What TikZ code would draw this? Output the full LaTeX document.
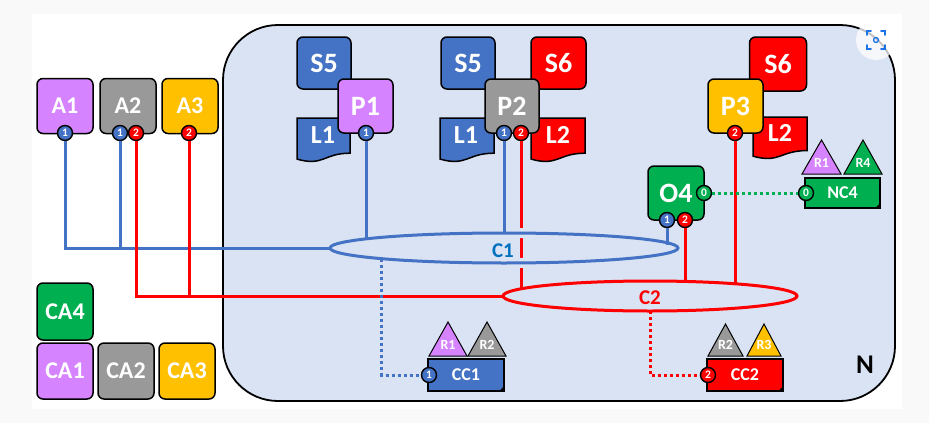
\documentclass[tikz,border=0pt]{standalone}
\usepackage{fontspec}
\setmainfont{Carlito}
\usetikzlibrary{shapes.geometric}
\definecolor{cviolet}{HTML}{D683FF}
\definecolor{cgray}{HTML}{999999}
\definecolor{cyellow}{HTML}{FFC000}
\definecolor{cblue}{HTML}{4472C4}
\definecolor{cred}{HTML}{FF0000}
\definecolor{cgreen}{HTML}{00B050}
\definecolor{nbg}{HTML}{DAE3F3}
\definecolor{lblblue}{HTML}{0070C0}
\definecolor{outerbg}{HTML}{F9F9F9}
\definecolor{iconblue}{HTML}{1A73E8}
\newcommand{\docshape}[5]{%
  \draw[doc, fill=#5] (#1,#2) -- (#3,#2) -- (#3,{#2+0.8*#4})
    .. controls ({(#1+#3)/2},{#2+0.8*#4}) and ({(#1+#3)/2},{#2+1.107*#4}) .. (#1,{#2+0.934*#4}) -- cycle;}
\newcommand{\foldcorner}[1]{%
  \fill[black] (#1.south east) -- ++(0,-6) -- ++(-6,6) -- cycle;}
\begin{document}
\begin{tikzpicture}[x=1pt,y=-1pt,
  box/.style={draw=black, line width=1.5pt, rounded corners=6pt, text=white, inner sep=0pt,
    minimum width=56pt, minimum height=55pt, font=\bfseries\fontsize{28}{28}\selectfont},
  abox/.style={box, font=\bfseries\fontsize{24}{24}\selectfont},
  doc/.style={draw=black, line width=1.5pt},
  doclbl/.style={text=white, inner sep=0pt, font=\bfseries\fontsize{26}{26}\selectfont},
  port/.style={circle, draw=black, line width=1.4pt, minimum size=15pt, inner sep=0pt,
    text=white, font=\bfseries\fontsize{11.5}{11.5}\selectfont},
  conn/.style={line width=3pt},
  dotconn/.style={line width=3pt, dash pattern=on 3pt off 3pt},
  netell/.style={ellipse, draw, line width=3pt, inner sep=0pt, outer sep=0pt},
  netlbl/.style={inner sep=0pt, font=\bfseries\fontsize{21}{21}\selectfont},
  tagbox/.style={draw=black, line width=1.3pt, text=white, inner sep=0pt,
    minimum width=76pt, minimum height=32pt, font=\bfseries\fontsize{18}{18}\selectfont},
  tri/.style={draw=black, line width=1pt},
  trilbl/.style={text=white, inner sep=0pt, font=\bfseries\fontsize{14}{14}\selectfont},
]
\useasboundingbox (0,0) rectangle (929,423);
\fill[outerbg] (0,0) rectangle (929,423);
\fill[white] (32,14) rectangle (902,409);

% Network N
\draw[fill=nbg, line width=1.8pt, rounded corners=55pt] (223,25) rectangle (895,401);
\node[inner sep=0pt, font=\bfseries\fontsize{27}{27}\selectfont] (nlbl) at (865,365) {N};

% Left boxes
\node[abox, fill=cviolet] (a1) at (65,106) {A1};
\node[abox, fill=cgray] (a2) at (128,106) {A2};
\node[abox, fill=cyellow] (a3) at (190,106) {A3};
\node[abox, fill=cgreen, minimum height=57pt] (ca4) at (65,311.5) {CA4};
\node[abox, fill=cviolet, minimum height=56pt] (ca1) at (65,371) {CA1};
\node[abox, fill=cgray, minimum height=56pt] (ca2) at (126,371) {CA2};
\node[abox, fill=cyellow, minimum height=56pt] (ca3) at (187,371) {CA3};

% P1 group
\node[box, fill=cblue, minimum width=54pt, minimum height=52pt] (s5a) at (324,63) {S5};
\docshape{297}{118}{350}{44}{cblue}
\node[doclbl] (l1a) at (323,135) {L1};
\node[box, fill=cviolet, minimum width=55pt, minimum height=54pt] (p1) at (365.5,106) {P1};

% P2 group
\node[box, fill=cblue, minimum width=54pt, minimum height=52pt] (s5b) at (468,63) {S5};
\node[box, fill=cred, minimum width=55pt, minimum height=52pt] (s6b) at (558.5,63) {S6};
\docshape{440}{118}{494}{44}{cblue}
\node[doclbl] (l1b) at (466,135) {L1};
\docshape{531}{118}{585}{44}{cred}
\node[doclbl] (l2b) at (558,135) {L2};
\node[box, fill=cgray, minimum width=54pt, minimum height=54pt] (p2) at (512,106) {P2};

% P3 group
\node[box, fill=cred, minimum width=57pt, minimum height=54pt] (s6c) at (778,64) {S6};
\docshape{753}{117}{807}{42}{cred}
\node[doclbl] (l2c) at (780,133) {L2};
\node[box, fill=cyellow, minimum width=55pt, minimum height=54pt] (p3) at (735.5,106) {P3};

% O4
\node[box, fill=cgreen, minimum width=56pt, minimum height=54pt] (o4) at (676,193) {O4};

% NC4 with resources
\draw[tri, fill=cviolet] (802,174) -- (821.5,140) -- (841,174) -- cycle;
\node[trilbl] (nr1) at (821.5,163) {R1};
\draw[tri, fill=cgreen] (844,174) -- (863,140) -- (882,174) -- cycle;
\node[trilbl] (nr4) at (863,163) {R4};
\node[tagbox, fill=cgreen, minimum width=75pt, minimum height=30pt] (nc4) at (842.5,193) {NC4};
\foldcorner{nc4}

% CC1 with resources
\draw[tri, fill=cviolet] (429,356) -- (448,322) -- (467,356) -- cycle;
\node[trilbl] (c1r1) at (448,345) {R1};
\draw[tri, fill=cgray] (468,356) -- (487,322) -- (506,356) -- cycle;
\node[trilbl] (c1r2) at (487,345) {R2};
\node[tagbox, fill=cblue] (cc1) at (466,375) {CC1};
\foldcorner{cc1}

% CC2 with resources
\draw[tri, fill=cgray] (708,356) -- (725.5,324) -- (743,356) -- cycle;
\node[trilbl] (c2r2) at (725.5,345) {R2};
\draw[tri, fill=cyellow] (747,356) -- (764,324) -- (781,356) -- cycle;
\node[trilbl] (c2r3) at (764,345) {R3};
\node[tagbox, fill=cred] (cc2) at (745,375) {CC2};
\foldcorner{cc2}

% Ports
\node[port, fill=cblue] (a1p1) at (65,133) {1};
\node[port, fill=cblue] (a2p1) at (120,133) {1};
\node[port, fill=cred] (a2p2) at (136,133) {2};
\node[port, fill=cred] (a3p2) at (189,133) {2};
\node[port, fill=cblue] (p1p1) at (366,133) {1};
\node[port, fill=cblue] (p2p1) at (504,133) {1};
\node[port, fill=cred] (p2p2) at (521,133) {2};
\node[port, fill=cred] (p3p2) at (735,133) {2};
\node[port, fill=cgreen] (o4p0) at (704,193) {0};
\node[port, fill=cblue] (o4p1) at (667,220) {1};
\node[port, fill=cred] (o4p2) at (685,220) {2};
\node[port, fill=cgreen] (nc4p0) at (806,193) {0};
\node[port, fill=cblue] (cc1p1) at (429,375) {1};
\node[port, fill=cred] (cc2p2) at (708,375) {2};

% Networks C2 then the red P2 link (crosses C1)
\node[netell, draw=cred, minimum width=294pt, minimum height=30pt] (c2) at (650,296) {};
\draw[conn, cred] (p2p2.south) -- (p2p2.south |- c2.176.8);

% C1 with a gap around it
\draw[nbg, line width=10pt] (504,248) ellipse [x radius=174, y radius=15];
\node[netell, draw=cblue, minimum width=348pt, minimum height=30pt] (c1) at (504,248) {};

% Blue connectors
\draw[conn, cblue] (a1p1.south) |- (c1.west);
\draw[conn, cblue] (a2p1.south) -- (a2p1.south |- c1.west);
\draw[conn, cblue] (p1p1.south) -- (p1p1.south |- c1.176.2);
\draw[conn, cblue] (p2p1.south) -- (c1.north);
\draw[conn, cblue] (o4p1.south) -- (o4p1.south |- c1.1.84);

% Red connectors
\draw[conn, cred] (a2p2.south) |- (c2.west);
\draw[conn, cred] (a3p2.south) -- (a3p2.south |- c2.west);
\draw[conn, cred] (o4p2.south) -- (o4p2.south |- c2.22.6);
\draw[conn, cred] (p3p2.south) -- (p3p2.south |- c2.8.19);

% Dotted links
\draw[dotconn, cblue] (c1.-175.1) |- (cc1p1.west);
\draw[dotconn, cred] (c2.south) |- (cc2p2.west);
\draw[dotconn, cgreen] (o4p0.east) -- (nc4p0.west);

% Network labels
\node[netlbl, text=lblblue] (c1lbl) at (503,251) {C1};
\node[netlbl, text=cred] (c2lbl) at (650,298) {C2};

% Screenshot overlay icon
\fill[white, opacity=0.75] (876,40) circle (20);
\draw[iconblue, line width=1.6pt, line cap=round]
  (867,35) -- (867,31) -- (871,31)
  (881,31) -- (885,31) -- (885,35)
  (885,45) -- (885,49) -- (881,49)
  (871,49) -- (867,49) -- (867,45);
\draw[iconblue, line width=1.3pt] (876,40) circle (2.5);
\end{tikzpicture}
\end{document}
